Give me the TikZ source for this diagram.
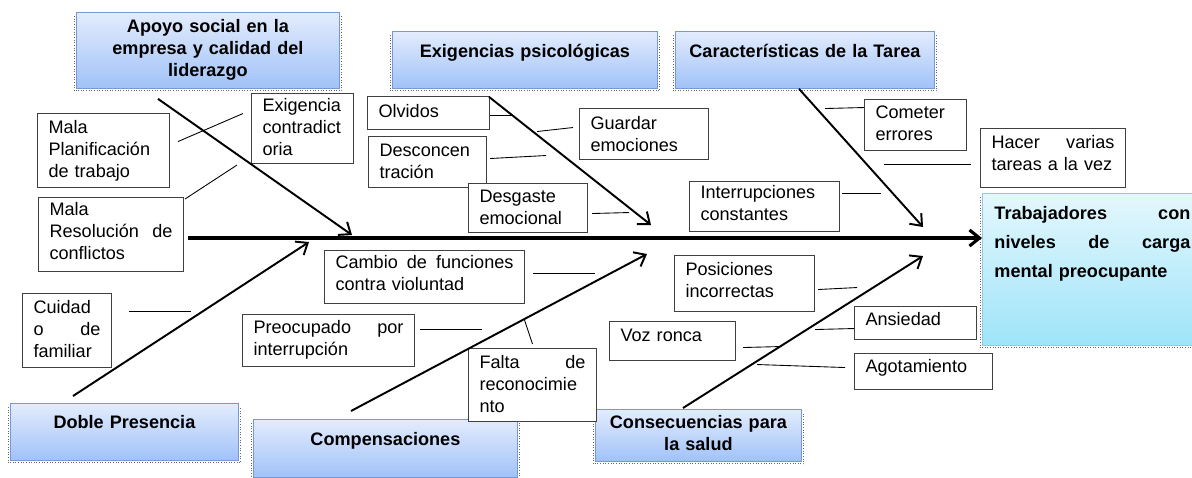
\documentclass[tikz,border=0pt]{standalone}
\usepackage{fontspec}
\setmainfont{Liberation Sans}
\usetikzlibrary{arrows.meta}

\definecolor{azularriba}{RGB}{227,236,253}
\definecolor{azulabajo}{RGB}{160,194,248}
\definecolor{azulborde}{RGB}{118,152,212}
\definecolor{cianarriba}{RGB}{228,247,253}
\definecolor{cianabajo}{RGB}{158,228,249}
\definecolor{cianborde}{RGB}{150,200,222}

\begin{document}
\begin{tikzpicture}[
    x=0.02cm, y=-0.02cm,
    >={Straight Barb[length=2mm,width=3.2mm]},
    every node/.style={anchor=north west, inner ysep=0pt, font=\fontsize{10.3}{12.5}\selectfont},
    causa/.style={draw=black!75, line width=0.6pt, fill=white, inner xsep=0.22cm, align=left},
    cabeza/.style={draw=azulborde, line width=0.5pt, top color=azularriba, bottom color=azulabajo,
        inner xsep=0.1cm, align=center, font=\fontsize{10.3}{12.5}\selectfont\bfseries},
    efecto/.style={draw=cianborde, line width=0.5pt, top color=cianarriba, bottom color=cianabajo,
        inner xsep=0.24cm, align=left, font=\fontsize{10.3}{16.5}\selectfont\bfseries},
    sombra/.style={draw=black!60, line width=0.5pt, densely dotted},
    flecha/.style={->, line width=1.1pt},
    espina/.style={->, line width=1.8pt},
    rama/.style={line width=0.5pt}
]
\useasboundingbox (0,0) rectangle (1192,477);

% Cabeceras
\node[cabeza, text width=5.06cm, text height=0.40cm, text depth=1.12cm] (apoyo) at (76,12) {Apoyo social en la\\ empresa y calidad del\\ liderazgo};
\node[cabeza, text width=5.10cm, text height=0.52cm, text depth=0.62cm] (exigencias) at (392,31) {Exigencias psicológicas};
\node[cabeza, text width=4.98cm, text height=0.52cm, text depth=0.62cm] (tarea) at (675,31) {Características de la Tarea};
\node[cabeza, text width=4.36cm, text height=0.50cm, text depth=0.64cm] (doble) at (10,403) {Doble Presencia};
\node[cabeza, text width=5.08cm, text height=0.52cm, text depth=0.64cm] (compensaciones) at (253,419) {Compensaciones};
\node[cabeza, text width=3.92cm, text height=0.38cm, text depth=0.66cm] (salud) at (595,409) {Consecuencias para\\ la salud};

% Efecto
\node[efecto, text width=3.92cm, text height=0.52cm, text depth=2.52cm] (trabajadores) at (982,193) {Trabajadores\hfill con\\ niveles\hfill de\hfill carga\\ mental preocupante};

% Sombras
\foreach \c in {apoyo, exigencias, tarea, doble, compensaciones, salud, trabajadores}
    \draw[sombra] ([shift={(-2,4)}]\c.north west) -- ([shift={(-2,2)}]\c.south west)
        -- ([shift={(2,2)}]\c.south east) -- ([shift={(2,4)}]\c.north east);

% Causas
\node[causa, text width=2.20cm, text height=0.40cm, text depth=1.08cm] (planificacion) at (37,113) {Mala\\ Planificación\\ de trabajo};
\node[causa, text width=1.60cm, text height=0.36cm, text depth=1.04cm] (contradictoria) at (251,93) {Exigencia\\ contradict\\ oria};
\node[causa, text width=2.46cm, text height=0.36cm, text depth=1.12cm] (resolucion) at (38,197) {Mala\\ Resolución\hfill de\\ conflictos};
\node[causa, text width=1.34cm, text height=0.40cm, text depth=1.08cm] (cuidado) at (22,293) {Cuidad\\ o\hfill de\\ familiar};
\node[causa, text width=2.00cm, text height=0.42cm, text depth=0.24cm] (olvidos) at (367,96) {Olvidos};
\node[causa, text width=1.92cm, text height=0.40cm, text depth=0.62cm] (desconcentracion) at (368,136) {Desconcen\\ tración};
\node[causa, text width=2.14cm, text height=0.42cm, text depth=0.60cm] (guardar) at (579,108) {Guardar\\ emociones};
\node[causa, text width=1.94cm, text height=0.38cm, text depth=0.60cm] (desgaste) at (468,183) {Desgaste\\ emocional};
\node[causa, text width=2.56cm, text height=0.34cm, text depth=0.66cm] (interrupciones) at (689,181) {Interrupciones\\ constantes};
\node[causa, text width=1.60cm, text height=0.38cm, text depth=0.64cm] (errores) at (864,99) {Cometer\\ errores};
\node[causa, text width=2.46cm, text height=0.40cm, text depth=0.78cm] (varias) at (980,128) {Hacer\hfill varias\\ tareas a la vez};
\node[causa, text width=3.56cm, text height=0.36cm, text depth=0.70cm] (cambio) at (324,250) {Cambio\hfill de\hfill funciones\\ contra violuntad};
\node[causa, text width=3.00cm, text height=0.38cm, text depth=0.66cm] (preocupado) at (242,314) {Preocupado\hfill por\\ interrupción};
\node[causa, text width=2.12cm, text height=0.40cm, text depth=1.06cm] (reconocimiento) at (468,348) {Falta\hfill de\\ reconocimie\\ nto};
\node[causa, text width=2.36cm, text height=0.40cm, text depth=0.72cm] (posiciones) at (674,255) {Posiciones\\ incorrectas};
\node[causa, text width=2.08cm, text height=0.40cm, text depth=0.38cm] (voz) at (609,321) {Voz ronca};
\node[causa, text width=2.00cm, text height=0.38cm, text depth=0.28cm] (ansiedad) at (854,306) {Ansiedad};
\node[causa, text width=2.32cm, text height=0.38cm, text depth=0.34cm] (agotamiento) at (854,353) {Agotamiento};

% Espina y puntas
\coordinate (cola) at (188,238);
\coordinate (tapoyo) at (352,235);
\coordinate (texigencias) at (651,225);
\coordinate (ttarea) at (923,227);
\coordinate (tdoble) at (309,242);
\coordinate (tcompensaciones) at (647,254);
\coordinate (tsalud) at (923,256);

\draw[espina] (cola) -- (cola -| trabajadores.west);

% Flechas
\draw[flecha] ([shift={(82,10)}]apoyo.south west) -- (tapoyo);
\draw[flecha] ([shift={(97,8)}]exigencias.south west) -- (texigencias);
\draw[flecha] ([shift={(124,0)}]tarea.south west) -- (ttarea);
\draw[flecha] ([shift={(63,-7)}]doble.north west) -- (tdoble);
\draw[flecha] ([shift={(98,-8)}]compensaciones.north west) -- (tcompensaciones);
\draw[flecha] ([shift={(88,-1)}]salud.north west) -- (tsalud);

% Ramas
\draw[rama] ([shift={(8,-9)}]planificacion.east) -- ([shift={(-8,-15)}]contradictoria.west);
\draw[rama] ([shift={(1,2)}]resolucion.north east) -- ([shift={(-14,1)}]contradictoria.south west);
\draw[rama] ([shift={(17,-19)}]cuidado.east) -- ++(62,0);
\draw[rama] ([shift={(0,2)}]olvidos.east) -- ++(23,0);
\draw[rama] ([shift={(-6,-6.5)}]guardar.west) -- ++(-36,4);
\draw[rama] ([shift={(3,-3.5)}]desconcentracion.east) -- ++(56,-3);
\draw[rama] ([shift={(4,5.5)}]desgaste.east) -- ++(37,-1);
\draw[rama] ([shift={(2,-13)}]interrupciones.east) -- ++(39,0);
\draw[rama] ([shift={(0,-17.5)}]errores.west) -- ++(-39,1);
\draw[rama] ([shift={(-9,6.5)}]varias.west) -- ++(-87,0);
\draw[rama] ([shift={(8,-3.5)}]cambio.east) -- ++(62,0);
\draw[rama] ([shift={(5,-11)}]preocupado.east) -- ++(62,0);
\draw[rama] ([shift={(0,-4)}]reconocimiento.north) -- ++(-8,-24);
\draw[rama] ([shift={(3,6)}]posiciones.east) -- ++(39,-2);
\draw[rama] ([shift={(7,6.5)}]voz.east) -- ++(38,-1);
\draw[rama] ([shift={(0,5.5)}]ansiedad.west) -- ++(-39,1);
\draw[rama] ([shift={(-9,-4)}]agotamiento.west) -- ++(-88,-3);

\end{tikzpicture}
\end{document}
